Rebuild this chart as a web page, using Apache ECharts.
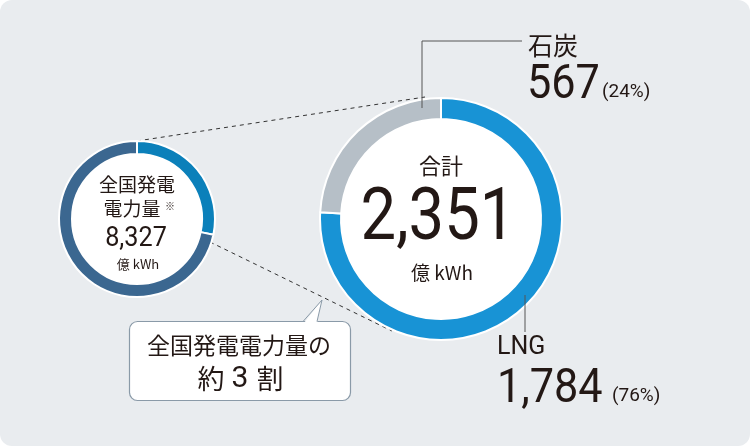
<!DOCTYPE html>
<html>
<head>
<meta charset="utf-8">
<script src="https://cdn.jsdelivr.net/npm/echarts@6/dist/echarts.min.js"></script>
<style>
  html, body { margin: 0; padding: 0; background: #ffffff; }
  #main { width: 750px; height: 446px; }
</style>
</head>
<body>
<div id="main"></div>
<script>
// 内訳（億kWh）
const categories = ['LNG', '石炭']
const values = [1784, 567]
const colors = ['#1893d5', '#b6bfc7']
// 全国発電電力量
const nationalTotal = 8327
const nationalColors = ['#0b80ba', '#3b6790']

const sum = values.reduce((a, b) => a + b, 0)
const pct = v => Math.round(v / sum * 100) + '%'
const fmt = v => v.toLocaleString('en-US')

const JP = '"Noto Sans CJK JP", sans-serif'
const NUM = 'Roboto, "Noto Sans", sans-serif'
const ink = '#231815'

const chart = echarts.init(document.getElementById('main'), null, { renderer: 'canvas' })

const txt = (text, x, y, size, family, opt = {}) => ({
    type: 'text',
    z: 20,
    x: x,
    y: y,
    scaleX: opt.scaleX || 1,
    style: {
        text: text,
        font: (opt.weight || 'normal') + ' ' + size + 'px ' + family,
        fill: opt.fill || ink,
        textAlign: opt.align || 'center',
        textVerticalAlign: 'middle'
    }
})

const line = (points, opt = {}) => ({
    type: 'polyline',
    z: opt.z || 15,
    shape: { points: points },
    style: {
        stroke: opt.stroke || '#444',
        lineWidth: 1,
        lineDash: opt.dash || null,
        fill: null
    }
})

chart.setOption({
    animation: false,
    graphic: [
        // 背景
        { type: 'rect', z: 0, shape: { x: 0, y: 0, width: 750, height: 446, r: 12 }, style: { fill: '#e9ecef' } },
        // 内側の白い円
        { type: 'circle', z: 1, shape: { cx: 441, cy: 219, r: 101 }, style: { fill: '#ffffff' } },
        { type: 'circle', z: 1, shape: { cx: 137, cy: 219, r: 66 }, style: { fill: '#ffffff' } },
        // 破線
        line([[137, 141], [425, 97]], { dash: [4, 4], stroke: '#333', z: 1 }),
        line([[210, 242], [392, 331]], { dash: [4, 4], stroke: '#333', z: 1 }),
        // 引き出し線
        line([[422, 108], [422, 41], [522, 41]], { stroke: '#555' }),
        line([[525, 295], [525, 332]], { stroke: '#555' }),
        // 吹き出し
        { type: 'rect', z: 16, shape: { x: 129.5, y: 321.5, width: 221, height: 79, r: 8 }, style: { fill: '#ffffff', stroke: '#8a9aa8', lineWidth: 1.2 } },
        { type: 'polygon', z: 17, shape: { points: [[304, 323], [322, 300], [317, 323]] }, style: { fill: '#ffffff' } },
        line([[303, 321.5], [322, 300], [317, 321.5]], { stroke: '#8a9aa8', z: 18 }),
        txt('全国発電電力量の', 239, 345, 23, JP),
        txt('約', 211, 379, 27, JP),
        txt('3', 240, 379, 30, NUM),
        txt('割', 270, 379, 27, JP),
        // 大きい円の中央
        txt('合計', 441, 166, 22, JP),
        txt(fmt(sum), 438, 221, 72, NUM, { scaleX: 0.88 }),
        txt('億 kWh', 442, 273, 19, JP),
        // 小さい円の中央
        txt('全国発電', 137, 185, 19, JP),
        txt('電力量', 132, 209, 19, JP),
        txt('※', 170, 206, 10, JP),
        txt(fmt(nationalTotal), 136, 239, 28, NUM, { scaleX: 0.9 }),
        txt('億 kWh', 138, 264, 13, JP),
        // ラベル：石炭
        txt(categories[1], 528, 45, 25, JP, { align: 'left' }),
        txt(fmt(values[1]), 527, 86, 48, NUM, { align: 'left', scaleX: 0.9 }),
        txt('(' + pct(values[1]) + ')', 602, 92, 19, NUM, { align: 'left' }),
        // ラベル：LNG
        txt(categories[0], 497, 348, 25, NUM, { align: 'left' }),
        txt(fmt(values[0]), 497, 390, 48, NUM, { align: 'left', scaleX: 0.9 }),
        txt('(' + pct(values[0]) + ')', 612, 396, 19, NUM, { align: 'left' })
    ],
    series: [
        {
            type: 'pie',
            z: 5,
            silent: true,
            center: [441, 219],
            radius: [100, 121],
            startAngle: 90,
            clockwise: true,
            label: { show: false },
            labelLine: { show: false },
            itemStyle: { borderColor: '#ffffff', borderWidth: 2 },
            data: categories.map((name, i) => ({
                name: name,
                value: values[i],
                itemStyle: { color: colors[i] }
            }))
        },
        {
            type: 'pie',
            z: 5,
            silent: true,
            center: [137, 219],
            radius: [65, 78],
            startAngle: 90,
            clockwise: true,
            label: { show: false },
            labelLine: { show: false },
            itemStyle: { borderColor: '#ffffff', borderWidth: 2 },
            data: [
                { name: '火力（LNG・石炭）', value: sum, itemStyle: { color: nationalColors[0] } },
                { name: 'その他', value: nationalTotal - sum, itemStyle: { color: nationalColors[1] } }
            ]
        }
    ]
})
</script>
</body>
</html>
